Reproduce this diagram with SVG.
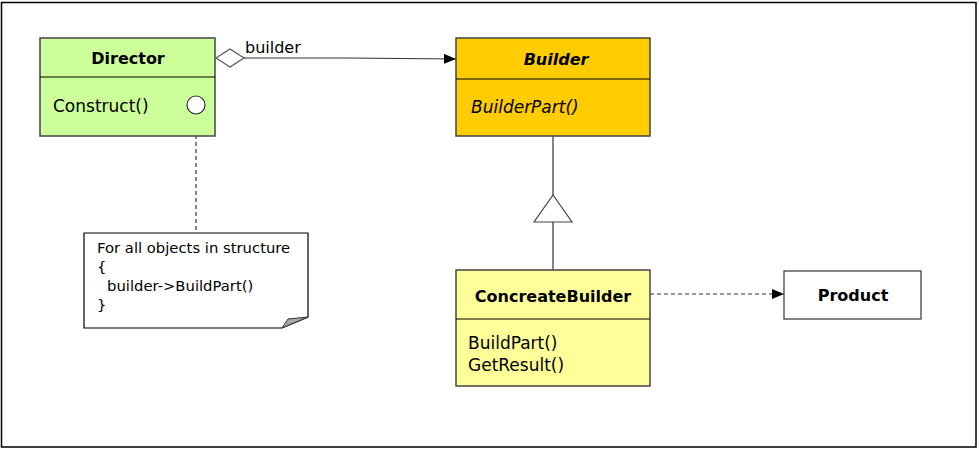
<svg xmlns="http://www.w3.org/2000/svg" width="979" height="451" viewBox="0 0 979 451">
<style>
text{font-family:"DejaVu Sans","Noto Sans CJK KR",sans-serif;fill:#000;}
.cls{stroke:#444;stroke-width:1.5;}
.div{stroke:#000;stroke-width:1.2;}
.t{font-size:16px;font-weight:bold;text-anchor:middle;}
.m{font-size:17px;}
.n{font-size:14.8px;}
.ln{stroke:#333;stroke-width:1.2;fill:none;}
.dash{stroke-dasharray:4,3;}
</style>
<defs>
<marker id="arr" viewBox="0 0 12 10" refX="12" refY="5" markerWidth="12" markerHeight="10" markerUnits="userSpaceOnUse" orient="auto">
<path d="M0,0 L12,5 L0,10 Z" fill="#000"/>
</marker>
</defs>
<rect x="1.5" y="2.5" width="974.5" height="444.5" fill="#fff" stroke="#000" stroke-width="1.5"/>
<g id="connectors">
<path class="ln" d="M244,58 L345,58 L456,59" marker-end="url(#arr)"/>
<path d="M216,58 L230,49 L244,58 L230,67 Z" fill="#fff" stroke="#555" stroke-width="1.2"/>
<text x="245" y="53" class="m" style="font-size:16px">builder</text>
<line class="ln" x1="553" y1="136" x2="553" y2="195"/>
<path d="M553,195 L572,222 L534,222 Z" fill="#fff" stroke="#444" stroke-width="1.2"/>
<line class="ln" x1="553" y1="222" x2="553" y2="270"/>
<path class="ln dash" d="M650,294 L784,294" marker-end="url(#arr)"/>
<line class="ln dash" x1="196" y1="114" x2="196" y2="233"/>
</g>
<g id="director">
<rect class="cls" x="40" y="38" width="175" height="98" fill="#ccff99"/>
<line class="div" x1="40" y1="77" x2="215" y2="77"/>
<text x="128" y="64" class="t">Director</text>
<text x="53" y="112" class="m">Construct()</text>
<circle cx="196" cy="105" r="9" fill="#fff" stroke="#333" stroke-width="1.2"/>
</g>
<g id="builder">
<rect class="cls" x="456" y="38" width="194" height="98" fill="#ffcc00"/>
<line class="div" x1="456" y1="79" x2="650" y2="79"/>
<text x="556" y="65" class="t" font-style="italic">Builder</text>
<text x="471" y="113" class="m" font-style="italic">BuilderPart()</text>
</g>
<g id="concreatebuilder">
<rect class="cls" x="456" y="270" width="194" height="116" fill="#ffff99"/>
<line class="div" x1="456" y1="319" x2="650" y2="319"/>
<text x="553" y="302" class="t">ConcreateBuilder</text>
<text x="468" y="349" class="m">BuildPart()</text>
<text x="468" y="371" class="m">GetResult()</text>
</g>
<g id="product">
<rect x="784" y="271" width="137" height="48" fill="#fff" stroke="#333" stroke-width="1.2"/>
<text x="853" y="301" class="t">Product</text>
</g>
<g id="note">
<path d="M84,233 L308,233 L308,317 L282,328 L84,328 Z" fill="#fff" stroke="#000" stroke-width="1.2"/>
<path d="M308,317 L282,328 L288,319 Z" fill="#aaa" stroke="#333" stroke-width="1"/>
<text x="97" y="253" class="n">For all objects in structure</text>
<text x="97" y="272" class="n">{</text>
<text x="107" y="291" class="n">builder-&gt;BuildPart()</text>
<text x="97" y="310" class="n">}</text>
</g>
</svg>
